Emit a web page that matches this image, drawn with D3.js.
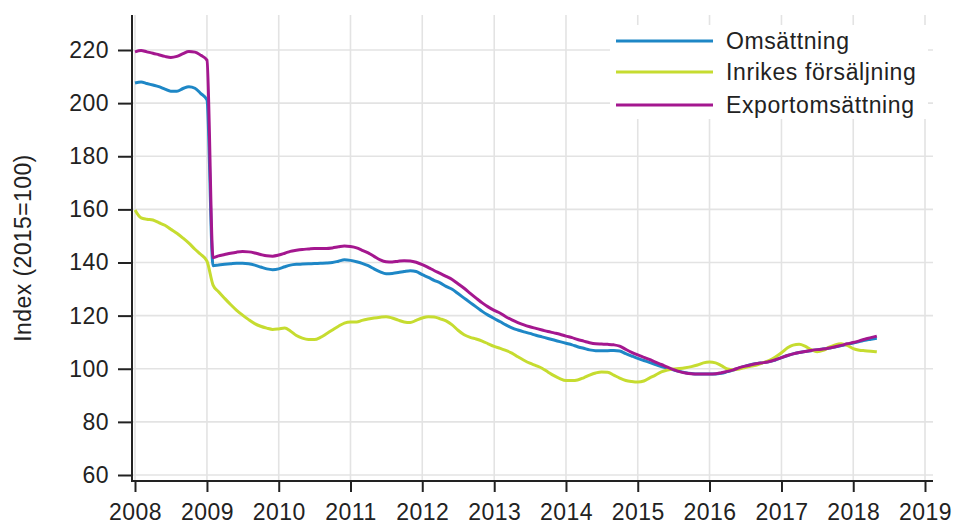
<!DOCTYPE html>
<html><head><meta charset="utf-8">
<script src="https://cdn.jsdelivr.net/npm/d3@7"></script>
<style>
html,body{margin:0;padding:0;background:#fff;}
text{font-family:"Liberation Sans",Arial,sans-serif;fill:#222;}
</style></head>
<body><svg id="c" width="955" height="528"></svg>
<script>
// monthly observations Jan 2008 .. May 2018
const firstMonth = "2008-01";
const lastMonth = "2018-05";
const seriesNames = ["Omsättning", "Inrikes försäljning", "Exportomsättning"];
const seriesColors = ["#1e87c6", "#c6dc30", "#a4178f"];
const yTicks = [60, 80, 100, 120, 140, 160, 180, 200, 220];
const xTickYears = [2008, 2009, 2010, 2011, 2012, 2013, 2014, 2015, 2016, 2017, 2018, 2019];
const yLabel = "Index (2015=100)";

const omsattning = [
207.6,208,207.4,206.8,206.2,205.3,204.5,204.5,205.5,206.2,205.6,203.6,
201.2,138.8,139.1,139.3,139.5,139.7,139.7,139.5,139,138.3,137.6,137.3,
137.6,138.4,139,139.3,139.4,139.5,139.6,139.7,139.8,140,140.5,141,
140.8,140.3,139.7,138.8,137.6,136.5,135.8,135.9,136.2,136.6,136.9,136.6,
135.4,134.4,133.3,132.3,131,129.9,128.3,126.6,124.9,123.3,121.6,120.2,
118.9,117.7,116.5,115.4,114.6,113.9,113.3,112.6,112,111.4,110.8,110.2,
109.6,109,108.3,107.7,107.1,106.8,106.8,106.8,106.9,106.7,105.7,104.8,
103.9,103.1,102.4,101.6,100.8,100.2,99.6,99,98.5,98.2,98,98,
98,98,98.3,98.9,99.5,100.3,101,101.6,102,102.3,102.7,103.3,
104.2,105,105.6,106.1,106.5,106.8,107.1,107.4,107.8,108.2,108.7,109.2,
109.7,110.2,110.7,111.1,111.5];

const inrikes = [
159.8,156.8,156.3,156,155,154,152.5,151,149.2,147.3,145,143,
140.5,131.5,129,126.5,124.2,122,120.2,118.5,117,116,115.3,114.8,
115,115.3,114.2,112.5,111.5,111,111,111.8,113.2,114.6,116,117.2,
117.6,117.6,118.2,118.7,119.1,119.4,119.6,119.1,118.3,117.6,117.4,118.2,
119.1,119.6,119.5,118.8,118,116.5,114.5,112.8,111.8,111.2,110.4,109.4,
108.4,107.7,106.9,105.9,104.5,103.2,102.1,101.2,100.2,98.8,97.4,96.3,
95.6,95.6,95.8,96.6,97.6,98.4,98.8,98.7,97.6,96.5,95.6,95.2,
95,95.4,96.5,97.6,98.8,99.5,99.9,100.1,100.4,100.8,101.4,102.2,
102.5,102.2,101.2,99.9,99.6,99.9,100.5,101,101.5,102.3,103.2,104.4,
106,107.9,108.9,109.2,108.5,107.2,106.4,106.9,108.1,109,109.4,108.8,
107.6,107,106.8,106.6,106.4];

const export_ = [
219.3,219.8,219.3,218.8,218.2,217.6,217.2,217.6,218.6,219.4,219.2,218,
216.2,141.8,142.5,143,143.5,143.9,144.1,144,143.6,143,142.5,142.4,
142.8,143.5,144.2,144.6,144.9,145.1,145.3,145.3,145.3,145.5,145.9,146.2,
146,145.5,144.6,143.6,142.3,141,140.3,140.2,140.5,140.7,140.6,140.1,
139.2,138.1,137,135.9,134.8,133.6,132,130.3,128.4,126.6,124.8,123.3,
122,120.9,119.6,118.4,117.4,116.5,115.8,115.2,114.6,114,113.5,113,
112.3,111.7,111,110.4,109.8,109.4,109.3,109.2,109,108.5,107.3,106.2,
105.2,104.3,103.5,102.5,101.6,100.6,99.7,98.9,98.4,98.1,98,98,
98,98.1,98.5,99,99.6,100.4,101,101.5,102,102.3,102.7,103.4,
104.2,105,105.6,106.1,106.5,106.9,107.2,107.4,107.8,108.3,108.8,109.4,
109.9,110.5,111.1,111.7,112.3];

const seriesValues = [omsattning, inrikes, export_];

const parseMonth = d3.timeParse("%Y-%m");
const months = d3.timeMonth.range(parseMonth(firstMonth), d3.timeMonth.offset(parseMonth(lastMonth), 1));

const svg = d3.select("#c");
const x = d3.scaleTime()
  .domain([new Date(xTickYears[0], 0, 1), new Date(xTickYears[xTickYears.length - 1], 0, 1)])
  .range([135, 925]);
const y = d3.scaleLinear().domain([60, 220]).range([475, 50]);

const plotLeft = 132, plotRight = 933, plotTop = 15, plotBottom = 481;

// grid
const grid = svg.append("g");
grid.selectAll("line.h").data(yTicks).join("line")
  .attr("x1", plotLeft).attr("x2", plotRight)
  .attr("y1", d => y(d)).attr("y2", d => y(d))
  .attr("stroke", "#e3e3e3").attr("stroke-width", 1.6);
grid.selectAll("line.v").data(xTickYears).join("line")
  .attr("x1", d => x(new Date(d, 0, 1))).attr("x2", d => x(new Date(d, 0, 1)))
  .attr("y1", plotTop).attr("y2", plotBottom)
  .attr("stroke", "#e3e3e3").attr("stroke-width", 1.6);

// lines
const line = d3.line().x((d, i) => x(months[i])).y(d => y(d)).curve(d3.curveMonotoneX);
seriesValues.forEach((vals, k) => {
  svg.append("path").datum(vals)
    .attr("d", line)
    .attr("fill", "none")
    .attr("stroke", seriesColors[k])
    .attr("stroke-width", 3)
    .attr("stroke-linejoin", "round");
});

// axes
const yAxis = d3.axisLeft(y).tickValues(yTicks).tickSize(14).tickPadding(9);
const gy = svg.append("g").attr("transform", `translate(${plotLeft},0)`).call(yAxis);
gy.select(".domain").remove();
gy.selectAll(".tick line").attr("stroke", "#222").attr("stroke-width", 2);
gy.selectAll(".tick text").attr("font-size", 23).attr("letter-spacing", "0.5px")
  .attr("font-family", "Liberation Sans, Arial, sans-serif").attr("fill", "#222");

const xAxis = d3.axisBottom(x).tickValues(xTickYears.map(yy => new Date(yy, 0, 1)))
  .tickFormat(d3.timeFormat("%Y")).tickSize(11).tickPadding(12);
const gx = svg.append("g").attr("transform", `translate(0,${plotBottom})`).call(xAxis);
gx.select(".domain").remove();
gx.selectAll(".tick line").attr("stroke", "#222").attr("stroke-width", 2);
gx.selectAll(".tick text").attr("font-size", 23).attr("letter-spacing", "0.5px")
  .attr("font-family", "Liberation Sans, Arial, sans-serif").attr("fill", "#222");

svg.append("line").attr("x1", plotLeft).attr("x2", plotLeft).attr("y1", plotTop).attr("y2", plotBottom + 1)
  .attr("stroke", "#222").attr("stroke-width", 2);
svg.append("line").attr("x1", plotLeft - 1).attr("x2", plotRight).attr("y1", plotBottom).attr("y2", plotBottom)
  .attr("stroke", "#222").attr("stroke-width", 2);

// y label
svg.append("text")
  .attr("transform", `translate(31,${(plotTop + plotBottom) / 2}) rotate(-90)`)
  .attr("text-anchor", "middle")
  .attr("font-size", 23)
  .attr("letter-spacing", "0.4px")
  .text(yLabel);

// legend
const lg = svg.append("g");
lg.append("rect").attr("x", 610).attr("y", 25).attr("width", 318).attr("height", 94).attr("fill", "#fff");
const legendY = [41, 72, 105];
seriesNames.forEach((n, k) => {
  lg.append("line").attr("x1", 616).attr("x2", 713).attr("y1", legendY[k]).attr("y2", legendY[k])
    .attr("stroke", seriesColors[k]).attr("stroke-width", 3);
  lg.append("text").attr("x", 726).attr("y", legendY[k]).attr("dy", "0.35em")
    .attr("font-size", 23).attr("letter-spacing", "0.6px").text(n);
});
</script></body></html>
